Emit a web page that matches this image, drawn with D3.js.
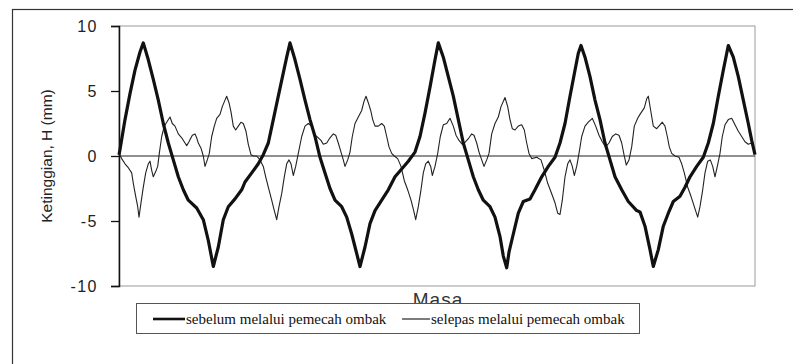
<!DOCTYPE html>
<html>
<head>
<meta charset="utf-8">
<script src="https://cdn.jsdelivr.net/npm/d3@7"></script>
<style>
  body { margin: 0; background: #fff; }
</style>
</head>
<body>
<div id="chart"></div>
<script>
// Ketinggian ombak sebelum / selepas pemecah ombak

// [masa, H (mm)]
const sebelum = [
  [0, 0.1], [1, 0.5], [6, 2.8], [11, 4.8], [16, 6.6], [21, 8.0], [24.3, 8.7], [29.3, 7.4],
  [34.3, 5.9], [39.3, 4.3], [44.3, 2.5], [49.3, 1.0], [54.3, -0.3], [59.3, -1.6], [64.3, -2.6],
  [69.3, -3.4], [77.7, -4.0], [84.3, -4.9], [89.3, -6.5], [94.3, -8.5], [99.3, -7.0], [104.3, -4.9],
  [109.3, -3.9], [116, -3.3], [122.7, -2.6], [126, -2.0], [132.7, -1.3], [139.3, -0.6], [144.3, 0.1],
  [149.3, 1.0], [154.3, 2.8], [159.3, 4.6], [164.3, 6.4], [167.7, 7.6], [171, 8.7], [176, 7.4],
  [181, 5.9], [186, 4.3], [191, 2.8], [196, 1.5], [201, -0.1], [206, -1.3], [211, -2.5], [216, -3.4],
  [222.7, -3.9], [227.7, -4.7], [232.7, -6.0], [237.7, -7.5], [241, -8.5], [246, -7.0], [251, -5.2],
  [256, -4.2], [262.7, -3.4], [269.3, -2.6], [276, -1.6], [282.7, -1.0], [289.3, -0.4], [296, 0.3],
  [301, 1.5], [306, 3.3], [311, 5.3], [316, 7.4], [319.3, 8.7], [324.3, 7.6], [329.3, 6.1],
  [334.3, 4.6], [339.3, 2.8], [344.3, 1.0], [349.3, -0.3], [354.3, -1.6], [359.3, -2.6], [364.3, -3.4],
  [371, -3.9], [376, -4.7], [381, -6.2], [384.3, -7.7], [387.7, -8.6], [390, -7.4], [394.3, -6.0],
  [399.3, -4.4], [404.3, -3.5], [411, -3.3], [416, -2.6], [422.7, -1.6], [429.3, -0.8], [436, -0.1],
  [441, 1.0], [446, 2.5], [451, 4.6], [456, 6.6], [459.3, 7.9], [462, 8.5], [466, 7.6], [471, 6.1],
  [476, 4.3], [481, 2.8], [486, 1.0], [491, -0.3], [496, -1.6], [502.7, -2.6], [509.3, -3.5],
  [517.7, -4.2], [521, -4.3], [526, -5.4], [531, -7.2], [534.3, -8.5], [539.3, -7.2], [544.3, -5.4],
  [549.3, -4.4], [554.3, -3.5], [561, -3.1], [566, -2.4], [571, -1.6], [577.7, -0.8], [584.3, -0.1],
  [589.3, 1.0], [594.3, 2.5], [599.3, 4.6], [604.3, 6.6], [609.3, 8.5], [614.3, 7.6], [619.3, 6.1],
  [624.3, 4.3], [629.3, 2.5], [632.7, 1.2], [636, 0.1]
];

const selepas = [
  [0, 0.2], [2.7, -0.2], [6, -0.6], [9.3, -0.9], [12.7, -1.3], [14.3, -2.1], [16.7, -3.1],
  [18.7, -3.9], [20, -4.7], [22, -3.6], [24.3, -2.4], [26.7, -1.3], [29.3, -0.6], [31, -0.4],
  [32.7, -1.1], [34.3, -1.6], [36.7, -1.2], [38.7, -0.8], [40.3, 0.2], [42.7, 1.5], [45.3, 2.3],
  [47.7, 2.6], [51, 3.0], [53.3, 2.5], [56, 2.3], [59.3, 1.7], [62.7, 1.4], [66, 1.0], [67.7, 0.8],
  [70, 1.1], [73.3, 1.6], [76, 1.7], [77.7, 1.4], [79.3, 1.0], [82, 0.6], [84.3, 0.0], [86, -0.8],
  [88.3, -0.3], [90.3, 0.2], [92.7, 1.5], [95.3, 2.3], [97.7, 2.9], [101, 3.2], [103.3, 3.8],
  [106, 4.3], [107.7, 4.6], [110, 4.1], [112, 3.4], [114.3, 2.3], [116.7, 2.0], [119.3, 2.3],
  [122, 2.6], [124.3, 2.5], [127, 1.9], [129.3, 0.9], [132, 0.1], [134.3, 0.0], [137.7, 0.0],
  [141, -0.3], [144.3, -0.8], [146.7, -1.6], [149.3, -2.4], [152.7, -3.4], [155.3, -4.2],
  [157.7, -4.9], [160, -3.9], [162.7, -2.9], [165.3, -1.6], [167.7, -0.6], [170, -0.3], [172, -0.6],
  [174.3, -1.5], [176.7, -0.8], [179.3, 0.2], [182.7, 1.5], [186, 2.3], [189.3, 2.5], [192.7, 2.3],
  [196, 1.6], [199.3, 1.4], [202, 1.2], [204.3, 0.9], [207.7, 1.0], [211, 1.4], [214.3, 1.7],
  [216.7, 1.6], [219.3, 1.0], [222, 0.3], [224.3, -0.3], [226, -0.8], [228.7, -0.3], [231, 0.3],
  [233.3, 1.5], [236, 2.5], [239.3, 3.0], [242.7, 3.5], [245, 4.2], [247, 4.6], [249.3, 4.1],
  [251.7, 3.5], [253.7, 2.8], [256, 2.3], [259.3, 2.3], [262.7, 2.5], [265.3, 2.3], [267.7, 1.5],
  [270, 0.7], [272.7, 0.2], [275.3, 0.0], [278.7, -0.2], [282, -0.8], [285.3, -1.9], [288.7, -2.6],
  [292, -3.4], [294.7, -4.2], [296.7, -4.9], [299.3, -3.9], [302, -2.6], [304.3, -1.3], [306.7, -0.6],
  [309.3, -0.4], [311.7, -0.8], [313.3, -1.5], [316, -0.8], [318.7, 0.2], [321.3, 1.5], [324.3, 2.4],
  [327.7, 2.5], [331, 2.9], [334.3, 2.3], [337, 1.6], [340, 1.2], [343.3, 0.9], [346.7, 1.1],
  [350, 1.4], [352.7, 1.7], [355, 1.6], [357.7, 1.0], [360, 0.3], [362.7, -0.3], [365, -0.8],
  [367.7, -0.3], [370, 0.2], [372.7, 1.7], [376, 2.5], [379.3, 3.0], [382, 3.8], [386, 4.5],
  [388.7, 3.8], [391, 2.8], [393.3, 2.1], [396, 2.0], [399.3, 2.3], [402.7, 2.4], [405.3, 2.0],
  [407.7, 1.0], [410, 0.2], [412.7, -0.2], [417.7, -0.1], [422, -0.3], [425.3, -1.1], [428.7, -2.1],
  [432.7, -2.9], [436, -3.6], [438.7, -4.4], [441, -4.5], [443.3, -3.4], [446, -1.6], [448.7, -0.6],
  [451, -0.3], [453.3, -0.8], [455.3, -1.5], [457.7, -0.8], [460, 0.2], [462.7, 1.5], [466, 2.3],
  [469.3, 2.6], [473.3, 2.9], [476.7, 2.3], [480, 1.6], [483.3, 1.1], [486.7, 0.7], [490, 1.0],
  [493.3, 1.5], [496.7, 1.7], [500, 1.6], [502.7, 1.0], [505, 0.1], [507.3, -0.7], [510, -0.3],
  [512.7, 0.7], [515.3, 2.3], [518.7, 2.9], [521, 3.2], [525.3, 3.7], [527.7, 4.4], [529.3, 4.6],
  [531.7, 3.5], [534.3, 2.3], [537.7, 2.1], [541, 2.4], [543.3, 2.6], [546, 2.3], [548.3, 1.5],
  [550.3, 0.7], [552.7, 0.2], [556, 0.0], [560, -0.1], [562.7, -0.6], [565.3, -1.3], [568.7, -2.4],
  [572, -3.1], [575.3, -3.9], [578.7, -4.7], [581, -3.9], [583.7, -2.6], [586, -1.3], [588.7, -0.4],
  [591.3, -0.3], [593.7, -0.8], [596, -1.6], [598.3, -0.8], [601, 0.2], [603.3, 1.5], [606, 2.4],
  [609.3, 2.8], [612.7, 2.9], [616, 2.4], [619.3, 1.9], [622.7, 1.5], [626, 1.1], [629.3, 0.9],
  [632.7, 1.0], [634.3, 0.6], [636, 0.3]
];

const yTicks = [10, 5, 0, -5, -10];
const legendLabels = ["sebelum melalui pemecah ombak", "selepas melalui pemecah ombak"];

const width = 793;
const height = 364;
const margin = { top: 26, right: 38, bottom: 78, left: 119 };

const svg = d3.select("#chart").append("svg")
  .attr("width", width)
  .attr("height", height)
  .style("font-family", "'Liberation Sans', Arial, sans-serif");

// outer frame (runs off the right and bottom of the scan)
svg.append("rect")
  .attr("x", 12.5)
  .attr("y", 9.5)
  .attr("width", 820)
  .attr("height", 420)
  .attr("fill", "none")
  .attr("stroke", "#333")
  .attr("stroke-width", 1.2);

const x = d3.scaleLinear()
  .domain([0, 636])
  .range([margin.left, width - margin.right]);

const y = d3.scaleLinear()
  .domain([-10, 10])
  .range([height - margin.bottom, margin.top]);

// plot area border, grey
svg.append("rect")
  .attr("x", x(0))
  .attr("y", y(10))
  .attr("width", x(636) - x(0))
  .attr("height", y(-10) - y(10))
  .attr("fill", "none")
  .attr("stroke", "#9a9a9a")
  .attr("stroke-width", 1);

// zero line
svg.append("line")
  .attr("x1", x(0))
  .attr("x2", x(636))
  .attr("y1", y(0))
  .attr("y2", y(0))
  .attr("stroke", "#222")
  .attr("stroke-width", 1);

const line = d3.line()
  .x(d => x(d[0]))
  .y(d => y(d[1]));

svg.append("path")
  .datum(selepas)
  .attr("d", line)
  .attr("fill", "none")
  .attr("stroke", "#222")
  .attr("stroke-width", 1.1)
  .attr("stroke-linejoin", "round");

svg.append("path")
  .datum(sebelum)
  .attr("d", line)
  .attr("fill", "none")
  .attr("stroke", "#111")
  .attr("stroke-width", 3.2)
  .attr("stroke-linejoin", "round");

// y axis (plain hyphen minus, as in the scan)
const yAxis = svg.append("g")
  .attr("transform", `translate(${x(0)},0)`)
  .call(d3.axisLeft(y).tickValues(yTicks).tickSize(8).tickPadding(13).tickFormat(d => String(d)));

yAxis.select(".domain").attr("stroke", "#111").attr("stroke-width", 1.5);
yAxis.selectAll(".tick line").attr("stroke", "#111").attr("stroke-width", 1.3);
yAxis.selectAll("text")
  .style("font-size", "16px")
  .style("letter-spacing", "1.5px")
  .style("font-family", "'Liberation Sans', Arial, sans-serif")
  .attr("fill", "#222");

// axis titles
svg.append("text")
  .attr("transform", `translate(52,${y(0)}) rotate(-90)`)
  .attr("text-anchor", "middle")
  .style("font-size", "15.5px")
  .attr("fill", "#222")
  .text("Ketinggian, H (mm)");

svg.append("text")
  .attr("x", 438)
  .attr("y", 306)
  .attr("text-anchor", "middle")
  .style("font-size", "19px")
  .style("letter-spacing", "1px")
  .attr("fill", "#333")
  .text("Masa");

// legend box sits on top of the "Masa" label like in the scan
const legend = svg.append("g");

legend.append("rect")
  .attr("x", 136.5)
  .attr("y", 303.5)
  .attr("width", 503)
  .attr("height", 30)
  .attr("fill", "#fff")
  .attr("stroke", "#555")
  .attr("stroke-width", 1);

const legendItems = [
  { label: legendLabels[0], x0: 153, x1: 185, w: 2.6 },
  { label: legendLabels[1], x0: 402, x1: 430, w: 1.1 }
];

legendItems.forEach(item => {
  legend.append("line")
    .attr("x1", item.x0)
    .attr("x2", item.x1)
    .attr("y1", 319)
    .attr("y2", 319)
    .attr("stroke", "#111")
    .attr("stroke-width", item.w);

  legend.append("text")
    .attr("x", item.x1 + 1)
    .attr("y", 323.5)
    .style("font-family", "'Liberation Serif', 'Times New Roman', serif")
    .style("font-size", "15px")
    .attr("fill", "#111")
    .text(item.label);
});
</script>
</body>
</html>
